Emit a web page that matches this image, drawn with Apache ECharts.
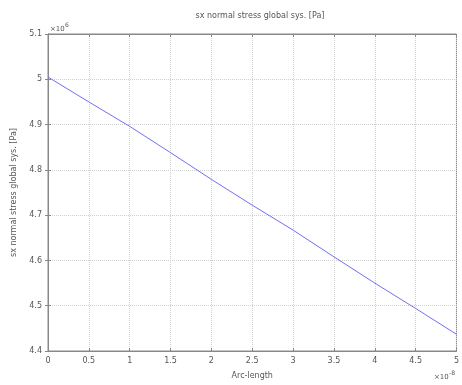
<!DOCTYPE html>
<html>
<head>
<meta charset="utf-8">
<script src="https://cdn.jsdelivr.net/npm/echarts@6/dist/echarts.min.js"></script>
<style>html,body{margin:0;padding:0;background:#fff}#c{width:462px;height:385px}</style>
</head>
<body>
<div id="c"></div>
<script>
// Data (x in units of 1e-8, y in units of 1e6 Pa)
var arcLength = [0, 0.5, 1, 1.5, 2, 2.5, 3, 3.5, 4, 4.5, 5];
var stress = [5.005, 4.950, 4.896, 4.838, 4.779, 4.722, 4.667, 4.608, 4.550, 4.494, 4.437];
var xTicks = ['0','0.5','1','1.5','2','2.5','3','3.5','4','4.5','5'];
var yTicks = ['4.4','4.5','4.6','4.7','4.8','4.9','5','5.1'];
var titleText = 'sx normal stress global sys. [Pa]';
var xName = 'Arc-length';
var yName = 'sx normal stress global sys. [Pa]';

var pts = arcLength.map(function(x, i){ return [x, stress[i]]; });
var txtColor = '#555';
var fontFam = 'DejaVu Sans';
var chart = echarts.init(document.getElementById('c'));
function xFmt(v){ var i = Math.round(v*2); return xTicks[i] !== undefined ? xTicks[i] : ''; }
function yFmt(v){ var i = Math.round((v-4.4)*10); return yTicks[i] !== undefined ? yTicks[i] : ''; }
var common = {
  axisLine: {show: true, lineStyle: {color: '#888', width: 1}},
  axisTick: {show: true, inside: true, length: 3, lineStyle: {color: '#888'}}
};
chart.setOption({
  animation: false,
  backgroundColor: '#fff',
  title: {text: titleText, left: 255, top: 7, textAlign: 'center',
    textStyle: {fontSize: 8, fontWeight: 'normal', color: txtColor, fontFamily: fontFam}},
  grid: {left: 48, right: 2, top: 34, bottom: 31, show: true, borderColor: '#888', borderWidth: 1},
  xAxis: [{
    type: 'value', min: 0, max: 5, interval: 0.5, position: 'bottom',
    axisLine: common.axisLine, axisTick: common.axisTick,
    axisLabel: {formatter: xFmt, fontSize: 8, color: txtColor, fontFamily: fontFam, margin: 6},
    splitLine: {show: true, lineStyle: {type: 'dotted', color: '#d0d0d0'}},
    name: xName, nameLocation: 'middle', nameGap: 21,
    nameTextStyle: {fontSize: 8, color: txtColor, fontFamily: fontFam}
  }, {
    type: 'value', min: 0, max: 5, interval: 0.5, position: 'top',
    axisLine: common.axisLine, axisTick: common.axisTick,
    axisLabel: {show: false}, splitLine: {show: false}
  }],
  yAxis: [{
    type: 'value', min: 4.4, max: 5.1, interval: 0.1, position: 'left',
    axisLine: common.axisLine, axisTick: common.axisTick,
    axisLabel: {formatter: yFmt, fontSize: 8, color: txtColor, fontFamily: fontFam, margin: 6},
    splitLine: {show: true, lineStyle: {type: 'dotted', color: '#d0d0d0'}},
    name: yName, nameLocation: 'middle', nameGap: 20,
    nameTextStyle: {fontSize: 8, color: txtColor, fontFamily: fontFam}
  }, {
    type: 'value', min: 4.4, max: 5.1, interval: 0.1, position: 'right',
    axisLine: common.axisLine, axisTick: common.axisTick,
    axisLabel: {show: false}, splitLine: {show: false}
  }],
  graphic: [
    {type: 'text', left: 50, top: 26, style: {text: '\u00d710', fontSize: 7, fill: txtColor, fontFamily: fontFam}},
    {type: 'text', left: 65, top: 22, style: {text: '6', fontSize: 6, fill: txtColor, fontFamily: fontFam}},
    {type: 'text', left: 434, top: 374, style: {text: '\u00d710', fontSize: 7, fill: txtColor, fontFamily: fontFam}},
    {type: 'text', left: 449, top: 370, style: {text: '-8', fontSize: 6, fill: txtColor, fontFamily: fontFam}}
  ],
  series: [{
    type: 'line', data: pts, showSymbol: false, smooth: false,
    lineStyle: {color: '#7070f0', width: 1}, xAxisIndex: 0, yAxisIndex: 0
  }]
});
</script>
</body>
</html>
